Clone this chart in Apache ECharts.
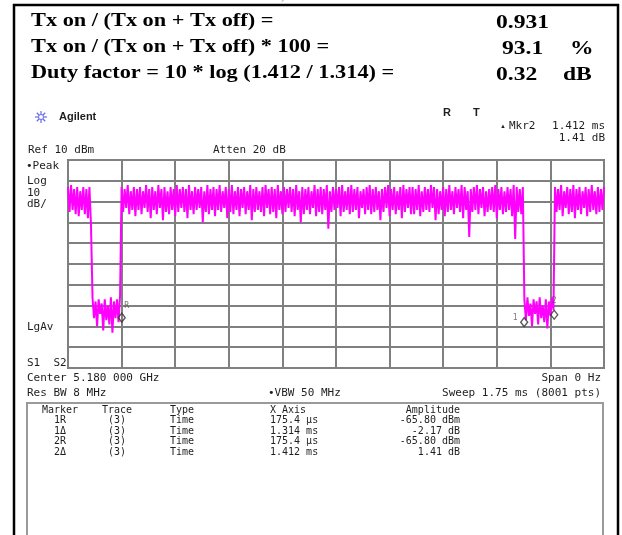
<!DOCTYPE html>
<html>
<head>
<meta charset="utf-8">
<script src="https://cdn.jsdelivr.net/npm/echarts@6/dist/echarts.min.js"></script>
<style>
  html, body { margin: 0; padding: 0; background: #fff; }
  #chart { width: 622px; height: 535px; }
</style>
</head>
<body>
<div id="chart"></div>
<script>
// Zero-span sweep of a bursting 5.18 GHz transmitter, 1.75 ms sweep.
const sweepUs = 1750;          // sweep time, microseconds
const stepUs = 5;              // spacing of the stored trace samples
const refLevelDbm = 10;        // top graticule line
const bottomDbm = -90;         // bottom graticule line (10 dB/div)

// Trace samples (dBm), one segment per burst / gap
const burstA = [-3, -15, -2, -14, -4, -16, -3, -17, -5, -14, -3, -16, -4, -18, -3, -21];
const gapA = [-56, -66, -58, -70, -57, -64, -59, -72, -57, -67, -60, -69, -56, -73, -58, -66, -57, -68, -55];
const burstB = [
  -3, -15, -4, -13, -2, -16, -5, -14, -3, -17,
  -4, -14, -3, -16, -5, -13, -2, -15, -4, -18,
  -3, -14, -5, -16, -2, -13, -4, -19, -3, -15,
  -5, -16, -3, -14, -4, -17, -2, -15, -4, -13,
  -3, -15, -4, -18, -2, -14, -5, -16, -3, -14,
  -4, -13, -3, -20, -5, -15, -2, -16, -4, -14,
  -3, -17, -4, -14, -2, -15, -5, -13, -3, -18,
  -4, -15, -2, -16, -5, -14, -3, -17, -4, -13,
  -3, -16, -5, -14, -2, -19, -4, -15, -3, -14,
  -5, -15, -3, -17, -2, -13, -4, -16, -3, -15,
  -4, -18, -2, -14, -5, -16, -3, -15, -4, -13,
  -3, -15, -4, -17, -2, -14, -5, -20, -3, -16,
  -4, -14, -3, -16, -5, -13, -2, -17, -4, -15,
  -3, -16, -4, -14, -2, -23, -5, -15, -3, -14,
  -4, -13, -3, -17, -2, -15, -5, -14, -3, -16,
  -2, -15, -4, -14, -3, -18, -5, -13, -4, -16,
  -3, -14, -2, -16, -4, -15, -3, -14, -5, -19,
  -4, -15, -3, -13, -2, -17, -4, -14, -3, -16,
  -5, -14, -3, -18, -2, -15, -4, -13, -3, -16,
  -3, -16, -4, -14, -2, -17, -5, -15, -3, -14,
  -4, -15, -2, -13, -3, -19, -4, -16, -5, -14,
  -3, -17, -4, -15, -2, -14, -5, -16, -3, -13,
  -4, -15, -2, -18, -3, -14, -5, -27, -4, -15,
  -3, -14, -2, -16, -4, -13, -3, -17, -5, -15,
  -4, -14, -3, -15, -2, -18, -4, -14, -3, -16,
  -5, -15, -3, -14, -4, -17, -2, -28, -3, -15,
  -4, -16, -3
];
const gapB = [-57, -67, -56, -65, -59, -70, -57, -64, -58, -69, -56, -66, -60, -68, -57, -71, -58, -65, -56, -62];
const burstC = [
  -3, -15, -4, -14, -2, -17, -5, -13, -3, -16,
  -4, -15, -2, -18, -4, -14, -3, -16, -5, -13,
  -3, -17, -4, -15, -2, -14, -5, -16, -3, -15,
  -4, -14, -3
];
const traceDbm = burstA.concat(gapA, burstB, gapB, burstC);

// Markers: reference plus two deltas
const refMarkerUs = 175.4;
const refMarkerDbm = -65.80;
const deltaUs = [1314, 1412];
const deltaDb = [-2.17, 1.41];

// Summary lines above the screen
const headerLines = [
  'Tx on / (Tx on + Tx off) =',
  'Tx on / (Tx on + Tx off) * 100 =',
  'Duty factor = 10 * log (1.412 / 1.314) ='
];
const headerValues = ['0.931', '93.1', '0.32'];
const headerUnits = ['', '%', 'dB'];

const tableHead = ['Marker', 'Trace', 'Type', 'X Axis', 'Amplitude'];

function fmtTime(us) {
  return us >= 1000 ? (us / 1000).toFixed(3) + ' ms' : us.toFixed(1) + ' \u00b5s';
}
const tableRows = [
  ['1R', '(3)', 'Time', fmtTime(refMarkerUs), refMarkerDbm.toFixed(2) + ' dBm'],
  ['1\u0394', '(3)', 'Time', fmtTime(deltaUs[0]), deltaDb[0].toFixed(2) + ' dB'],
  ['2R', '(3)', 'Time', fmtTime(refMarkerUs), refMarkerDbm.toFixed(2) + ' dBm'],
  ['2\u0394', '(3)', 'Time', fmtTime(deltaUs[1]), deltaDb[1].toFixed(2) + ' dB']
];

const traceData = traceDbm.map((v, i) => [i * stepUs, v]);
const markerData = [
  { value: [refMarkerUs, refMarkerDbm], label: 'R', pos: [5, -12] },
  { value: [refMarkerUs + deltaUs[0], refMarkerDbm + deltaDb[0]], label: '1', pos: [-9, -4] },
  { value: [refMarkerUs + deltaUs[1], refMarkerDbm + deltaDb[1]], label: '2', pos: [0, -14] }
];

const MONO = '"DejaVu Sans Mono", "Liberation Mono", monospace';
const SERIF = '"Liberation Serif", "Times New Roman", serif';
const SANS = '"Liberation Sans", Arial, sans-serif';
const INK = '#1e1e1e';

function txt(text, x, y, font, align) {
  return {
    type: 'text', silent: true,
    style: { text: text, x: x, y: y, font: font, fill: INK, align: align || 'left', verticalAlign: 'middle' }
  };
}
// bold serif line, drawn a little wide
function wide(text, x, y, size) {
  return {
    type: 'text', silent: true, x: x, y: y, scaleX: 1.24,
    style: { text: text, x: 0, y: 0, font: 'bold ' + size + 'px ' + SERIF, fill: '#000', align: 'left', verticalAlign: 'middle' }
  };
}

const graphics = [];
// outer frame
graphics.push({ type: 'rect', silent: true, shape: { x: 14, y: 5, width: 604, height: 545 },
  style: { fill: null, stroke: '#000', lineWidth: 2.5 } });
graphics.push({ type: 'text', silent: true,
  style: { text: ')', x: 281, y: -3, font: '11px ' + SERIF, fill: '#777', verticalAlign: 'middle' } });

const headerY = [21, 47, 73];
headerLines.forEach((s, i) => {
  graphics.push(wide(s, 31, headerY[i], 18));
});
const valueX = [496, 502, 496];
const unitX = [0, 570, 563];
headerValues.forEach((s, i) => {
  graphics.push(wide(s, valueX[i], headerY[i] + 2, 19));
  if (headerUnits[i]) graphics.push(wide(headerUnits[i], unitX[i], headerY[i] + 2, 19));
});

// Agilent starburst logo
const lc = [41, 117], lr = 6;
for (let k = 0; k < 4; k++) {
  const a = k * Math.PI / 4;
  graphics.push({ type: 'line', silent: true,
    shape: { x1: lc[0] - lr * Math.cos(a), y1: lc[1] - lr * Math.sin(a), x2: lc[0] + lr * Math.cos(a), y2: lc[1] + lr * Math.sin(a) },
    style: { stroke: '#6b6bf0', lineWidth: 1.2 } });
}
graphics.push({ type: 'circle', silent: true, shape: { cx: lc[0], cy: lc[1], r: 2.5 },
  style: { fill: '#fff', stroke: '#6b6bf0', lineWidth: 1 } });
graphics.push(txt('Agilent', 59, 117, 'bold 11px ' + SANS));
graphics.push(txt('R', 443, 113, 'bold 11px ' + SANS));
graphics.push(txt('T', 473, 113, 'bold 11px ' + SANS));

graphics.push(txt('\u25b2', 500, 126, '6px ' + SANS));
graphics.push(txt('Mkr2', 509, 126, '11px ' + MONO));
graphics.push(txt('1.412 ms', 605, 126, '11px ' + MONO, 'right'));
graphics.push(txt('1.41 dB', 605, 138, '11px ' + MONO, 'right'));
graphics.push(txt('Ref 10 dBm', 28, 150, '11px ' + MONO));
graphics.push(txt('Atten 20 dB', 213, 150, '11px ' + MONO));
graphics.push(txt('\u2022Peak', 26, 166, '11px ' + MONO));
graphics.push(txt('Log', 27, 181, '11px ' + MONO));
graphics.push(txt('10', 27, 193, '11px ' + MONO));
graphics.push(txt('dB/', 27, 204, '11px ' + MONO));
graphics.push(txt('LgAv', 27, 327, '11px ' + MONO));
graphics.push(txt('S1  S2', 27, 363, '11px ' + MONO));
graphics.push(txt('Center 5.180 000 GHz', 27, 378, '11px ' + MONO));
graphics.push(txt('Span 0 Hz', 601, 378, '11px ' + MONO, 'right'));
graphics.push(txt('Res BW 8 MHz', 27, 393, '11px ' + MONO));
graphics.push(txt('\u2022VBW 50 MHz', 268, 393, '11px ' + MONO));
graphics.push(txt('Sweep 1.75 ms (8001 pts)', 601, 393, '11px ' + MONO, 'right'));

// marker table box
graphics.push({ type: 'rect', silent: true, shape: { x: 27, y: 403, width: 576, height: 200 },
  style: { fill: null, stroke: '#9a9a9a', lineWidth: 2 } });
const colX = [60, 117, 170, 270, 460];
const colAlign = ['center', 'center', 'left', 'left', 'right'];
const rowY = [410, 420.5, 431, 441.5, 452];
[tableHead].concat(tableRows).forEach((row, r) => {
  row.forEach((cell, c) => {
    graphics.push(txt(cell, colX[c], rowY[r], '10px ' + MONO, colAlign[c]));
  });
});

const chart = echarts.init(document.getElementById('chart'), null, { renderer: 'canvas' });
chart.setOption({
  animation: false,
  backgroundColor: '#fff',
  grid: { left: 68, top: 160, width: 536, height: 208, show: true, borderColor: '#777', borderWidth: 2, backgroundColor: 'transparent' },
  xAxis: {
    type: 'value', min: 0, max: sweepUs, interval: sweepUs / 10,
    axisLabel: { show: false }, axisTick: { show: false }, axisLine: { show: false },
    splitLine: { show: true, lineStyle: { color: '#808080', width: 2 } }
  },
  yAxis: {
    type: 'value', min: bottomDbm, max: refLevelDbm, interval: 10,
    axisLabel: { show: false }, axisTick: { show: false }, axisLine: { show: false },
    splitLine: { show: true, lineStyle: { color: '#808080', width: 2 } }
  },
  series: [
    {
      type: 'line', data: traceData, showSymbol: false, symbol: 'none',
      lineStyle: { color: '#ff00ff', width: 2 }, z: 3, silent: true
    },
    {
      type: 'scatter', z: 5, silent: true,
      data: markerData.map(m => ({
        value: m.value,
        label: { show: true, formatter: m.label, offset: m.pos }
      })),
      symbol: 'diamond', symbolSize: [7, 9],
      itemStyle: { color: 'rgba(0,0,0,0)', borderColor: '#333', borderWidth: 1.4 },
      label: { position: 'inside', fontSize: 8, color: '#555', fontFamily: 'DejaVu Sans Mono' }
    }
  ],
  graphic: { elements: graphics }
});
</script>
</body>
</html>
